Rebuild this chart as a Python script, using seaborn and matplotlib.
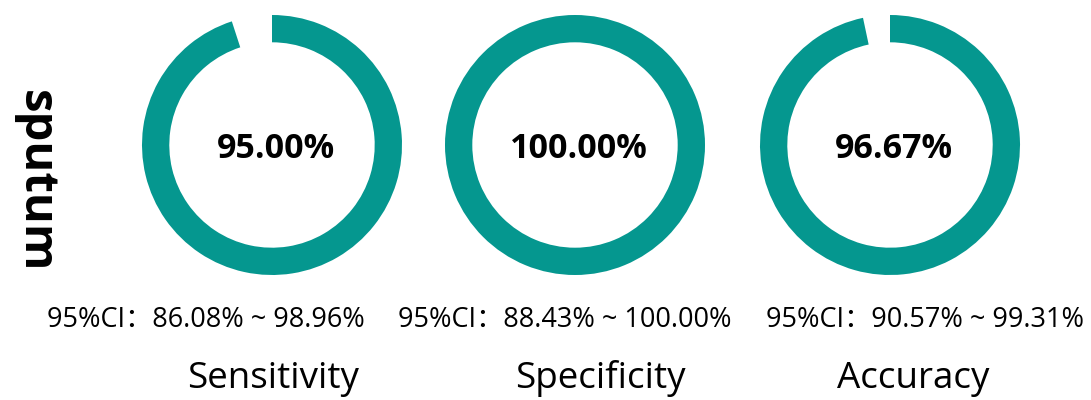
import matplotlib
matplotlib.use("Agg")
import matplotlib.pyplot as plt
import seaborn as sns

# chart data
metrics = ["Sensitivity", "Specificity", "Accuracy"]
values = [95.00, 100.00, 96.67]
ci_low = [86.08, 88.43, 90.57]
ci_high = [98.96, 100.00, 99.31]
row_label = "sputum"

sns.set_theme(style="white")
plt.rcParams['font.family'] = ['Open Sans', 'Noto Sans CJK SC', 'DejaVu Sans']

ring_color = "#05978f"

fig = plt.figure(figsize=(10.91, 4), dpi=100)

# donut centers in pixels (x) and common radius
centers_x = [272, 575, 890]
center_y = 145
radius = 130
W, H = 1091, 400

for i, (name, val) in enumerate(zip(metrics, values)):
    left = (centers_x[i] - radius) / W
    bottom = (H - center_y - radius) / H
    ax = fig.add_axes([left, bottom, 2 * radius / W, 2 * radius / H])
    ax.pie([val, 100 - val], colors=[ring_color, "none"], startangle=90,
           counterclock=False, wedgeprops=dict(width=0.21, linewidth=0))
    ax.set_xlim(-1, 1)
    ax.set_ylim(-1, 1)
    ax.set_aspect("equal")
    ax.axis("off")
    ax.text(0.03, -0.1, f"{val:.2f}%", ha="center", va="baseline",
            fontsize=24.5, fontweight="bold", color="black")

# CI texts and metric names
ci_x = [206, 565, 925]
name_x = [273, 600, 913]
for i in range(len(metrics)):
    fig.text(ci_x[i] / W, 1 - 327 / H,
             f"95%CI：{ci_low[i]:.2f}% ~ {ci_high[i]:.2f}%",
             ha="center", va="baseline", fontsize=19.5, color="black")
    fig.text(name_x[i] / W, 1 - 388 / H, metrics[i], ha="center",
             va="baseline", fontsize=26.5, color="black")

fig.text(35 / W, 1 - 181 / H, row_label, rotation=-90, ha="center",
         va="center", fontsize=34, fontweight="bold", color="black")

fig.savefig("out.png", dpi=100, facecolor="white")
